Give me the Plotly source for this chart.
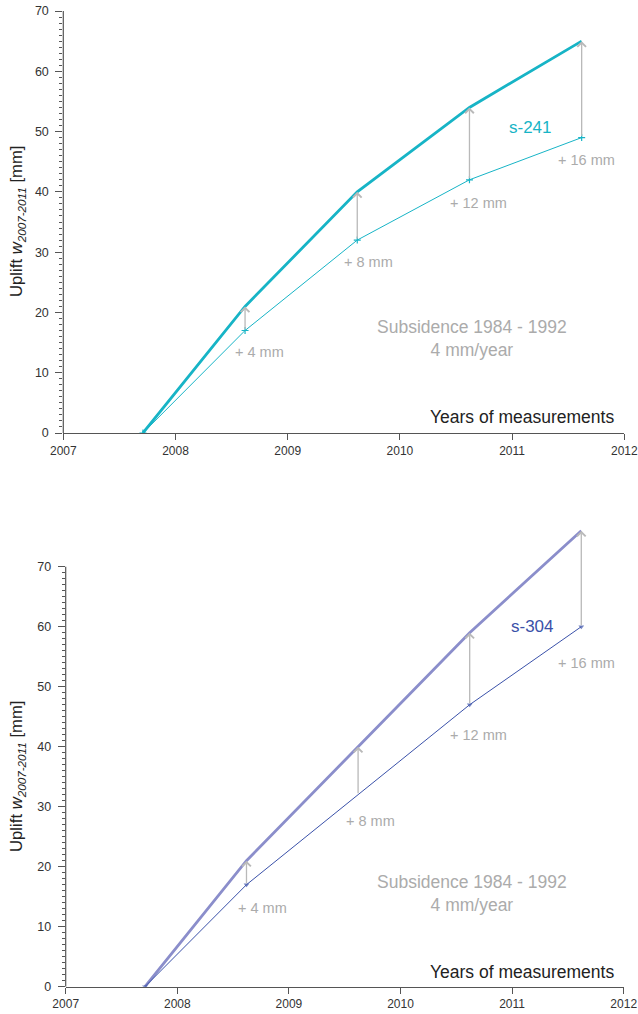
import plotly.graph_objects as go

# Measurement epochs (decimal years)
years = [2007.71, 2008.62, 2009.62, 2010.62, 2011.62]

# Benchmark s-241
s241_measured = [0, 17, 32, 42, 49]
s241_corrected = [0, 21, 40, 54, 65]

# Benchmark s-304
s304_measured = [0, 17, 32, 47, 60]
s304_corrected = [0, 21, 40, 59, 76]

# Added subsidence correction per epoch [mm]
corrections = [4, 8, 12, 16]
correction_labels = ["+ 4 mm", "+ 8 mm", "+ 12 mm", "+ 16 mm"]

x_ticks = [2007, 2008, 2009, 2010, 2011, 2012]
y_ticks = [0, 10, 20, 30, 40, 50, 60, 70]
y_minor = list(range(0, 71))

TEAL = "#17b4c6"
LAVENDER = "#8b8ecb"
NAVY = "#3a51a9"
GREY_TXT = "#ababab"
ARROW = "#b9b9b9"
AXIS = "#555555"
FONT = "Liberation Sans, Arial, sans-serif"

fig = go.Figure()

# --- upper panel: s-241
fig.add_trace(go.Scatter(x=years, y=s241_corrected, mode="lines", xaxis="x", yaxis="y",
                         line=dict(color=TEAL, width=2.8), showlegend=False))
fig.add_trace(go.Scatter(x=years, y=s241_measured, mode="lines+markers", xaxis="x", yaxis="y",
                         line=dict(color=TEAL, width=1),
                         marker=dict(symbol="cross-thin", size=5, line=dict(color=TEAL, width=1.2)),
                         showlegend=False))

# --- lower panel: s-304
fig.add_trace(go.Scatter(x=years, y=s304_corrected, mode="lines", xaxis="x2", yaxis="y2",
                         line=dict(color=LAVENDER, width=2.8), showlegend=False))
fig.add_trace(go.Scatter(x=years, y=s304_measured, mode="lines+markers", xaxis="x2", yaxis="y2",
                         line=dict(color=NAVY, width=1),
                         marker=dict(symbol="triangle-down", size=[5, 5, 0, 5, 5], color=NAVY,
                                     line=dict(width=0)),
                         showlegend=False))

annotations = []
shapes = []

panels = [
    dict(xr="x", yr="y", meas=s241_measured, corr=s241_corrected, name="s-241", ncol=TEAL,
         name_pos=(2011.16, 50.7),
         lab_pos=[(2008.75, 13.4), (2009.72, 28.3), (2010.70, 38.1), (2011.66, 45.3)],
         sub_pos=(2010.64, 15.6), xt_pos=(2011.93, 2.7)),
    dict(xr="x2", yr="y2", meas=s304_measured, corr=s304_corrected, name="s-304", ncol=NAVY,
         name_pos=(2011.18, 60.1),
         lab_pos=[(2008.76, 13.1), (2009.73, 27.6), (2010.70, 41.9), (2011.67, 53.9)],
         sub_pos=(2010.64, 15.5), xt_pos=(2011.93, 2.5)),
]

for p in panels:
    # correction arrows from measured to corrected uplift
    for i in range(1, len(years)):
        annotations.append(dict(
            x=years[i], y=p["corr"][i], ax=years[i], ay=p["meas"][i],
            xref=p["xr"], yref=p["yr"], axref=p["xr"], ayref=p["yr"],
            text="", showarrow=True, arrowhead=4, arrowsize=1.3, arrowwidth=1.3,
            arrowcolor=ARROW, standoff=0, startstandoff=0))
    for lab, (lx, ly) in zip(correction_labels, p["lab_pos"]):
        annotations.append(dict(x=lx, y=ly, xref=p["xr"], yref=p["yr"], text=lab,
                                showarrow=False, font=dict(family=FONT, size=14.5, color=GREY_TXT)))
    annotations.append(dict(x=p["name_pos"][0], y=p["name_pos"][1], xref=p["xr"], yref=p["yr"],
                            text=p["name"], showarrow=False,
                            font=dict(family=FONT, size=17, color=p["ncol"])))
    annotations.append(dict(x=p["sub_pos"][0], y=p["sub_pos"][1], xref=p["xr"], yref=p["yr"],
                            text="Subsidence 1984 - 1992<br>4 mm/year", showarrow=False,
                            align="center",
                            font=dict(family=FONT, size=17.5, color=GREY_TXT)))
    annotations.append(dict(x=p["xt_pos"][0], y=p["xt_pos"][1], xref=p["xr"], yref=p["yr"],
                            text="Years of measurements", showarrow=False, xanchor="right",
                            font=dict(family=FONT, size=17.5, color="#222222")))
    # vertical axis line up to 70 mm
    shapes.append(dict(type="line", xref=p["xr"] + " domain", yref=p["yr"],
                       x0=0, x1=0, y0=0, y1=70, line=dict(color=AXIS, width=1.2)))

ytitle = "Uplift <i>w</i><sub><i>2007-2011</i></sub> [mm]"
annotations.append(dict(x=17 / 638, y=1 - 222 / 1014, xref="paper", yref="paper", text=ytitle,
                        textangle=-90, showarrow=False, xanchor="center", yanchor="middle",
                        font=dict(family=FONT, size=16.7, color="#222222")))
annotations.append(dict(x=17 / 638, y=1 - 777 / 1014, xref="paper", yref="paper", text=ytitle,
                        textangle=-90, showarrow=False, xanchor="center", yanchor="middle",
                        font=dict(family=FONT, size=16.7, color="#222222")))

xaxis_common = dict(range=[2007, 2012], tickvals=x_ticks, ticks="outside", ticklen=6,
                    tickcolor=AXIS, tickwidth=1, showline=True, linecolor=AXIS, linewidth=1.2,
                    showgrid=False, zeroline=False, automargin=False,
                    tickfont=dict(family=FONT, size=12, color="#333333"))
yaxis_common = dict(tickvals=y_ticks, ticks="outside", ticklen=7, tickcolor=AXIS, tickwidth=1,
                    showline=False, showgrid=False, zeroline=False, automargin=False,
                    ticklabelstandoff=4,
                    minor=dict(tickmode="array", tickvals=y_minor, ticks="outside", ticklen=3,
                               tickcolor=AXIS, tickwidth=1, showgrid=False),
                    tickfont=dict(family=FONT, size=12.5, color="#333333"))

fig.update_layout(
    width=638, height=1014,
    margin=dict(l=0, r=0, t=0, b=0, autoexpand=False),
    paper_bgcolor="white", plot_bgcolor="white",
    xaxis=dict(domain=[63.3 / 638, 624.3 / 638], anchor="y", **xaxis_common),
    yaxis=dict(domain=[(1014 - 433) / 1014, (1014 - 11) / 1014], range=[0, 70], anchor="x",
               **yaxis_common),
    xaxis2=dict(domain=[65.7 / 638, 623.7 / 638], anchor="y2", **xaxis_common),
    yaxis2=dict(domain=[(1014 - 986.7) / 1014, (1014 - 518.7) / 1014], range=[0, 78], anchor="x2",
                **yaxis_common),
    annotations=annotations,
    shapes=shapes,
)

fig.write_html("out.html")
